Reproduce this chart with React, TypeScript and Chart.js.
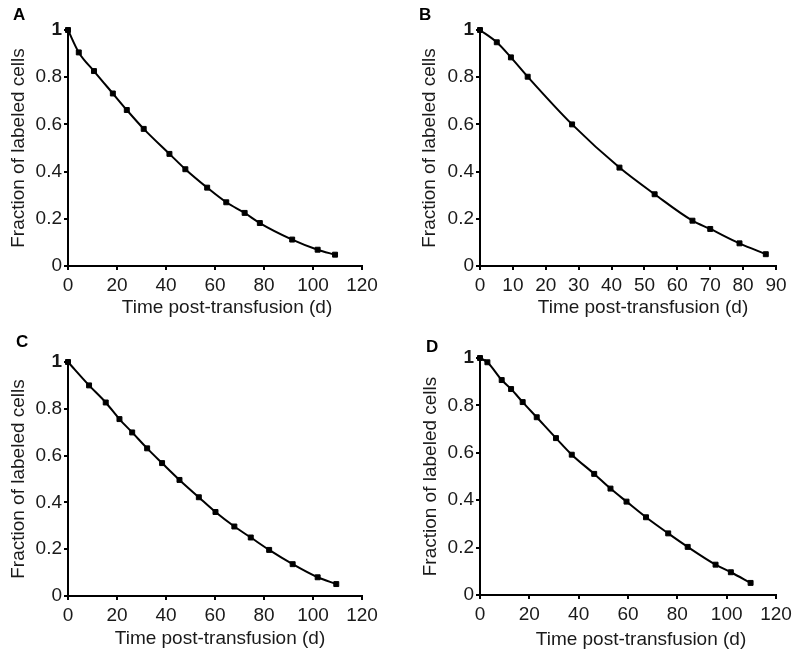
import React, { useEffect, useRef } from "react";
import { Chart, registerables } from "chart.js";

Chart.register(...registerables);

const FONT = "'Liberation Sans', Arial, Helvetica, sans-serif";
const FS = 19;

// Panel A
const daysA = [0, 4.4, 10.6, 18.3, 24.0, 30.9, 41.4, 47.9, 56.8, 64.6, 72.1, 78.3, 91.5, 101.9, 109.0];
const fracA = [1.0, 0.905, 0.826, 0.731, 0.661, 0.581, 0.475, 0.41, 0.332, 0.27, 0.225, 0.182, 0.112, 0.069, 0.048];
// Panel B
const daysB = [0, 5.1, 9.4, 14.5, 28.0, 42.4, 53.1, 64.6, 70.0, 78.9, 86.9];
const fracB = [1.0, 0.948, 0.884, 0.802, 0.6, 0.417, 0.304, 0.192, 0.157, 0.096, 0.05];
// Panel C
const daysC = [0, 8.6, 15.4, 21.0, 26.2, 32.3, 38.4, 45.5, 53.4, 60.2, 67.9, 74.6, 82.1, 91.7, 101.9, 109.5];
const fracC = [1.0, 0.9, 0.827, 0.756, 0.699, 0.631, 0.568, 0.496, 0.422, 0.359, 0.297, 0.25, 0.197, 0.136, 0.08, 0.051];
// Panel D
const daysD = [0, 3.0, 8.8, 12.6, 17.3, 23.0, 30.8, 37.2, 46.3, 52.9, 59.4, 67.3, 76.3, 84.2, 95.5, 101.7, 109.7];
const fracD = [1.0, 0.982, 0.907, 0.869, 0.814, 0.75, 0.662, 0.592, 0.511, 0.449, 0.394, 0.328, 0.26, 0.203, 0.128, 0.096, 0.051];

const xMaxA = 120, xStepA = 20;
const xMaxB = 90, xStepB = 10;
const yMax = 1, yStep = 0.2;

const xTitle = "Time post-transfusion (d)";
const yTitle = "Fraction of labeled cells";

type PanelProps = {
  letter: string;
  days: number[];
  frac: number[];
  xMax: number;
  xStep: number;
  left: number;
  top: number;
  width: number;
  height: number;
  padLeft: number;
  padRight: number;
  padTop: number;
  yWidth: number;
  xHeight: number;
  xTitleY: number;
  xTitleShift: number;
  letterLeft: number;
  letterTop: number;
};

function Panel(p: PanelProps) {
  const ref = useRef<HTMLCanvasElement>(null);
  useEffect(() => {
    if (!ref.current) return;
    const xTitlePlugin = {
      id: "xTitleDraw",
      afterDraw(chart: any) {
        const { ctx, chartArea } = chart;
        ctx.save();
        ctx.font = `${FS}px ${FONT}`;
        ctx.fillStyle = "#1a1a1a";
        ctx.textAlign = "center";
        ctx.textBaseline = "middle";
        ctx.fillText(xTitle, (chartArea.left + chartArea.right) / 2 + p.xTitleShift, p.xTitleY);
        ctx.restore();
      },
    };
    const chart = new Chart(ref.current, {
      type: "scatter",
      data: {
        datasets: [
          {
            data: p.days.map((d, i) => ({ x: d, y: p.frac[i] })),
            showLine: true,
            borderColor: "#000",
            borderWidth: 2,
            backgroundColor: "#000",
            pointBackgroundColor: "#000",
            pointBorderColor: "#000",
            pointStyle: "rect",
            pointRadius: 3.5,
            pointBorderWidth: 1,
            cubicInterpolationMode: "monotone",
            clip: false,
          } as any,
        ],
      },
      options: {
        responsive: false,
        animation: false,
        events: [],
        layout: { padding: { left: p.padLeft, right: p.padRight, top: p.padTop, bottom: 0 } },
        plugins: { legend: { display: false }, tooltip: { enabled: false } },
        scales: {
          x: {
            type: "linear",
            min: 0,
            max: p.xMax,
            afterFit: (s: any) => {
              s.height = p.xHeight;
            },
            border: { display: true, color: "#000", width: 2 },
            grid: { drawOnChartArea: false, drawTicks: true, tickLength: 4, color: "#000", lineWidth: 2 },
            ticks: {
              stepSize: p.xStep,
              color: "#1a1a1a",
              padding: 4,
              maxRotation: 0,
              autoSkip: false,
              font: { family: FONT, size: FS },
            },
            title: { display: false, text: xTitle },
          },
          y: {
            type: "linear",
            min: 0,
            max: yMax,
            afterFit: (s: any) => {
              s.width = p.yWidth;
            },
            border: { display: true, color: "#000", width: 2 },
            grid: { drawOnChartArea: false, drawTicks: true, tickLength: 4, color: "#000", lineWidth: 2 },
            ticks: {
              stepSize: yStep,
              color: "#1a1a1a",
              padding: 2,
              callback: (v: any) => String(Math.round(Number(v) * 10) / 10),
              font: (ctx: any) => ({
                family: FONT,
                size: FS,
                weight: ctx.tick && Math.abs(ctx.tick.value - 1) < 1e-9 ? "bold" : "normal",
              }),
            },
            title: {
              display: true,
              text: yTitle,
              color: "#1a1a1a",
              font: { family: FONT, size: FS },
              padding: { top: 0, bottom: 0 },
            },
          },
        },
      } as any,
      plugins: [xTitlePlugin],
    });
    return () => chart.destroy();
  }, []);
  return (
    <div style={{ position: "absolute", left: p.left, top: p.top, width: p.width, height: p.height }}>
      <canvas ref={ref} width={p.width} height={p.height} style={{ display: "block" }} />
      <div
        style={{
          position: "absolute",
          left: p.letterLeft,
          top: p.letterTop,
          fontFamily: FONT,
          fontWeight: "bold",
          fontSize: 17,
          lineHeight: "17px",
          color: "#000",
        }}
      >
        {p.letter}
      </div>
    </div>
  );
}

export default function App() {
  return (
    <div style={{ position: "absolute", left: 0, top: 0, width: 800, height: 649, background: "#fff", overflow: "hidden" }}>
      <Panel letter="A" days={daysA} frac={fracA} xMax={xMaxA} xStep={xStepA}
        left={0} top={0} width={400} height={330}
        padLeft={7} padRight={38} padTop={30} yWidth={61} xHeight={64}
        xTitleY={308} xTitleShift={12}
        letterLeft={13} letterTop={6} />
      <Panel letter="B" days={daysB} frac={fracB} xMax={xMaxB} xStep={xStepB}
        left={400} top={0} width={400} height={330}
        padLeft={18} padRight={24} padTop={30} yWidth={62} xHeight={64}
        xTitleY={308} xTitleShift={15}
        letterLeft={19} letterTop={6} />
      <Panel letter="C" days={daysC} frac={fracC} xMax={xMaxA} xStep={xStepA}
        left={0} top={320} width={400} height={329}
        padLeft={7} padRight={38} padTop={42} yWidth={61} xHeight={53}
        xTitleY={318.6} xTitleShift={5}
        letterLeft={16} letterTop={13} />
      <Panel letter="D" days={daysD} frac={fracD} xMax={xMaxA} xStep={xStepA}
        left={400} top={320} width={400} height={329}
        padLeft={19} padRight={24} padTop={38} yWidth={61} xHeight={54}
        xTitleY={319.4} xTitleShift={13}
        letterLeft={26} letterTop={18} />
    </div>
  );
}
